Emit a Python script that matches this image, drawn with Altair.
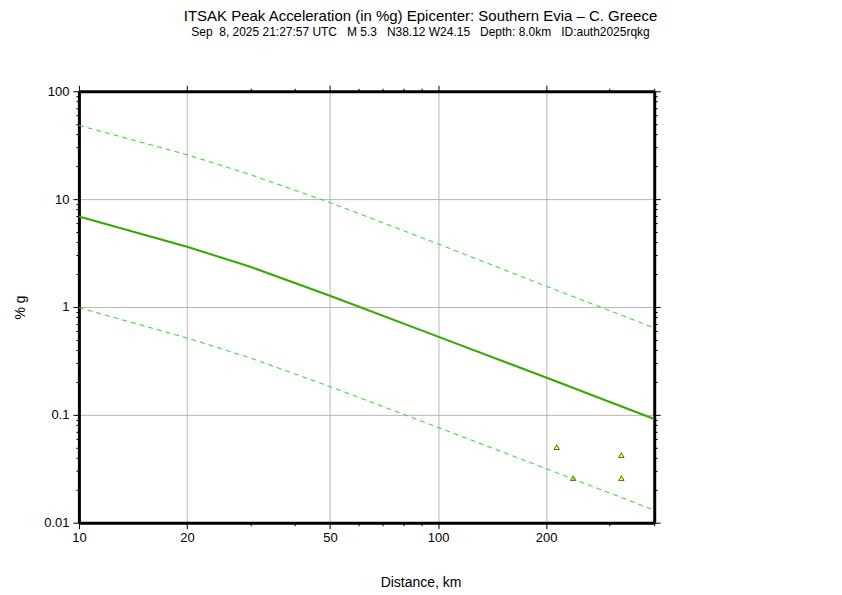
import altair as alt
import pandas as pd

# Curves
dist = [10, 20, 30, 50, 100, 200, 400]
median = [6.9, 3.62, 2.36, 1.27, 0.531, 0.222, 0.0915]
upper = [48.3, 25.8, 16.9, 9.3, 3.85, 1.56, 0.64]
lower = [0.985, 0.517, 0.337, 0.183, 0.0765, 0.0317, 0.0131]

# Stations
sta_dist = [214, 238, 324, 324]
sta_pga = [0.0502, 0.0259, 0.0423, 0.0259]

x_ticks = [10, 20, 30, 40, 50, 60, 70, 80, 90, 100, 200, 300, 400]
y_ticks = []
for d in [0.01, 0.1, 1, 10]:
    for m in range(1, 10):
        y_ticks.append(round(d * m, 4))
y_ticks.append(100)

title = "ITSAK Peak Acceleration (in %g) Epicenter: Southern Evia \u2013 C. Greece"
subtitle = ("Sep\u00a0\u00a08, 2025 21:27:57 UTC\u00a0\u00a0\u00a0M 5.3\u00a0\u00a0\u00a0N38.12 W24.15"
            "\u00a0\u00a0\u00a0Depth: 8.0km\u00a0\u00a0\u00a0ID:auth2025rqkg")

FONT = "Liberation Sans"
XT = "indexof([10,20,50,100,200], datum.value) >= 0"
YT = "abs(log(datum.value)/LN10 - round(log(datum.value)/LN10)) < 0.001"

curves = pd.DataFrame({"dist": dist, "median": median, "upper": upper, "lower": lower})
stations = pd.DataFrame({"dist": sta_dist, "pga": sta_pga})

xs = alt.Scale(type="log", domain=[10, 400], nice=False)
ys = alt.Scale(type="log", domain=[0.01, 100], nice=False)

x_axis_main = alt.Axis(
    orient="bottom", values=x_ticks, title="Distance, km",
    labelExpr=f"({XT}) ? format(datum.value, '~g') : ''",
    labelFont=FONT, labelFontSize=13, labelColor="black", labelPadding=3,
    tickSize={"condition": {"test": XT, "value": 6}, "value": 3},
    tickColor="black", tickWidth=1,
    grid=True, gridColor="#999999", gridWidth=0.7,
    gridOpacity={"condition": {"test": XT, "value": 1}, "value": 0},
    domainColor="black", domainWidth=3,
    titleFont=FONT, titleFontSize=14, titleFontWeight="normal", titleColor="black",
    titleX=342, titleY=64, titleBaseline="alphabetic", titleAlign="center",
    labelFlush=False, labelOverlap=False,
)
y_axis_main = alt.Axis(
    orient="left", values=y_ticks, title="% g",
    labelExpr=f"({YT}) ? format(datum.value, '~g') : ''",
    labelFont=FONT, labelFontSize=13, labelColor="black", labelPadding=4,
    tickSize={"condition": {"test": YT, "value": 6}, "value": 3},
    tickColor="black", tickWidth=1,
    grid=True, gridColor="#999999", gridWidth=0.7,
    gridOpacity={"condition": {"test": YT, "value": 1}, "value": 0},
    domainColor="black", domainWidth=3,
    titleFont=FONT, titleFontSize=14, titleFontWeight="normal", titleColor="black",
    titleX=-54, titleY=216, titleBaseline="alphabetic", titleAlign="center", titleAngle=270,
    labelFlush=False, labelOverlap=False,
)
x_axis_top = alt.Axis(
    orient="top", values=x_ticks, labels=False, title=None, grid=False,
    tickSize={"condition": {"test": XT, "value": 6}, "value": 3},
    tickColor="black", domainColor="black", domainWidth=3,
)
y_axis_right = alt.Axis(
    orient="right", values=y_ticks, labels=False, title=None, grid=False,
    tickSize={"condition": {"test": YT, "value": 6}, "value": 3},
    tickColor="black", domainColor="black", domainWidth=3,
)

base = alt.Chart(curves)

upper_line = base.mark_line(color="#22dd22", strokeWidth=1, strokeDash=[5, 4], clip=True).encode(
    x=alt.X("dist:Q", scale=xs, axis=x_axis_main),
    y=alt.Y("upper:Q", scale=ys, axis=y_axis_main),
)
lower_line = base.mark_line(color="#22dd22", strokeWidth=1, strokeDash=[5, 4], clip=True).encode(
    x=alt.X("dist:Q", scale=xs, axis=None),
    y=alt.Y("lower:Q", scale=ys, axis=None),
)
median_line = base.mark_line(color="#33aa00", strokeWidth=2, clip=True).encode(
    x=alt.X("dist:Q", scale=xs, axis=None),
    y=alt.Y("median:Q", scale=ys, axis=None),
)
points = alt.Chart(stations).mark_point(
    shape="triangle-up", filled=True, fill="#ffff00", stroke="black", strokeWidth=0.6,
    size=30, opacity=1,
).encode(
    x=alt.X("dist:Q", scale=xs, axis=x_axis_top),
    y=alt.Y("pga:Q", scale=ys, axis=y_axis_right),
)

chart = alt.layer(upper_line, points, lower_line, median_line).resolve_scale(
    x="shared", y="shared"
).resolve_axis(
    x="independent", y="independent"
).properties(
    width=576, height=432,
    autosize=alt.AutoSizeParams(type="none"),
    padding={"left": 71, "top": 83, "right": 180, "bottom": 70},
    title=alt.TitleParams(
        text=title, subtitle=subtitle, anchor="middle", dx=54,
        font=FONT, fontSize=15, fontWeight="normal", color="black",
        subtitleFont=FONT, subtitleFontSize=12, subtitleColor="black",
        subtitlePadding=3, offset=47,
    ),
).configure_view(stroke=None).configure(background="white")

chart.save("out.html", embed_options={"renderer": "svg", "actions": False})
